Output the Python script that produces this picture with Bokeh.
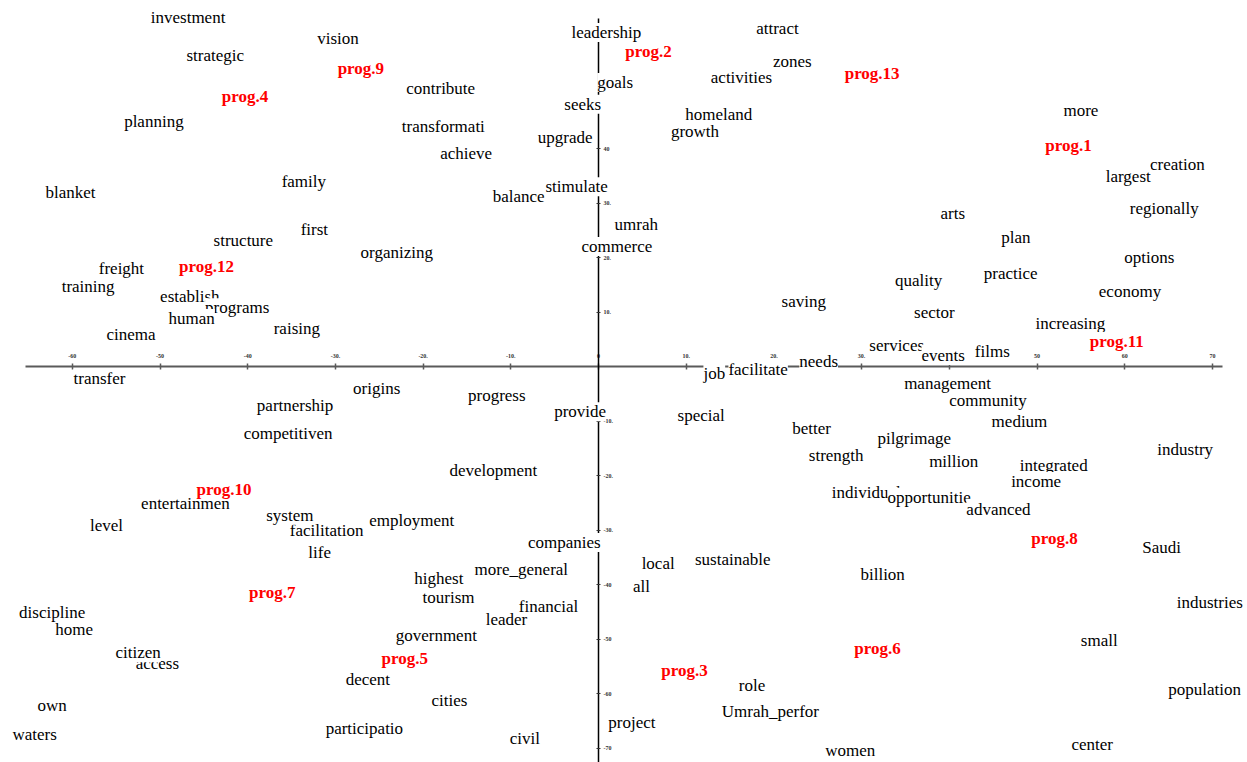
from bokeh.plotting import figure
from bokeh.models import ColumnDataSource, Range1d, LinearAxis, FixedTicker
from bokeh.core.properties import value
from bokeh.embed import file_html
from bokeh.resources import INLINE

# Word coordinates on the two dimensions
words = ["investment", "strategic", "vision", "contribute", "planning", "transformati",
         "achieve", "family", "blanket", "balance", "stimulate", "leadership", "goals",
         "seeks", "upgrade", "attract", "zones", "activities", "growth", "homeland",
         "more", "creation", "largest", "regionally", "arts", "plan", "options",
         "quality", "practice", "economy", "saving", "sector", "increasing", "services",
         "events", "films", "umrah", "commerce", "needs", "job", "facilitate",
         "structure", "first", "organizing", "freight", "training", "establish",
         "programs", "human", "cinema", "raising", "transfer", "origins", "progress",
         "provide", "partnership", "competitiven", "development", "entertainmen", "level",
         "facilitation", "system", "employment", "life", "companies", "highest",
         "more_general", "tourism", "leader", "financial", "home", "discipline", "access",
         "citizen", "government", "decent", "cities", "own", "waters", "participatio",
         "civil", "special", "management", "community", "medium", "better", "pilgrimage",
         "strength", "million", "integrated", "industry", "income", "individuals",
         "opportunitie", "advanced", "Saudi", "local", "all", "sustainable", "billion",
         "industries", "small", "role", "population", "Umrah_perfor", "project", "women",
         "center"]
word_x = [-46.8, -43.7, -29.7, -18.0, -50.7, -17.7,
          -15.1, -33.6, -60.2, -9.1, -2.5, 0.9, 1.9,
          -1.8, -3.8, 20.4, 22.1, 16.3, 11.0, 13.7,
          55.0, 66.0, 60.4, 64.5, 40.4, 47.6, 62.8,
          36.5, 47.0, 60.6, 23.4, 38.3, 53.8, 34.0,
          39.3, 44.9, 4.3, 2.1, 25.1, 13.2, 18.2,
          -40.5, -32.4, -23.0, -54.4, -58.2, -46.6,
          -41.2, -46.4, -53.3, -34.4, -56.9, -25.3, -11.6,
          -2.1, -34.6, -35.4, -12.0, -47.1, -56.1,
          -31.0, -35.2, -21.3, -31.8, -3.9, -18.2,
          -8.8, -17.1, -10.5, -5.7, -59.8, -62.3, -50.3,
          -52.5, -18.5, -26.3, -17.0, -62.3, -64.3, -26.7,
          -8.4, 11.7, 39.8, 44.4, 48.0, 24.3, 36.0,
          27.1, 40.5, 51.9, 66.9, 49.9, 30.9,
          37.7, 45.6, 64.2, 6.8, 4.9, 15.3, 32.4,
          69.7, 57.1, 17.5, 69.1, 19.6, 3.8, 28.7,
          56.3]
word_y = [64.0, 57.1, 60.2, 51.0, 45.0, 44.0,
          39.1, 33.9, 31.9, 31.2, 33.0, 61.3, 52.1,
          48.1, 42.0, 62.0, 56.0, 53.0, 43.1, 46.2,
          47.0, 37.1, 34.9, 29.0, 28.1, 23.7, 20.0,
          15.8, 17.1, 13.8, 11.9, 9.9, 7.9, 3.9,
          2.0, 2.8, 26.1, 22.0, 0.9, -1.3, -0.6,
          23.1, 25.1, 20.9, 18.0, 14.7, 12.8,
          10.8, 8.8, 5.9, 7.0, -2.2, -4.0, -5.3,
          -8.3, -7.2, -12.3, -19.1, -25.1, -29.2,
          -30.1, -27.3, -28.3, -34.1, -32.3, -38.9,
          -37.3, -42.4, -46.4, -44.0, -48.3, -45.1, -54.5,
          -52.5, -49.4, -57.4, -61.3, -62.2, -67.5, -66.4,
          -68.3, -9.0, -3.1, -6.2, -10.1, -11.4, -13.2,
          -16.3, -17.4, -18.2, -15.2, -21.1, -23.1,
          -24.0, -26.2, -33.2, -36.2, -40.4, -35.4, -38.2,
          -43.3, -50.3, -58.5, -59.3, -63.3, -65.3, -70.5,
          -69.4]

# Programme coordinates
progs = ["prog.1", "prog.2", "prog.3", "prog.4", "prog.5", "prog.6", "prog.7",
         "prog.8", "prog.9", "prog.10", "prog.11", "prog.12", "prog.13"]
prog_x = [53.6, 5.7, 9.8, -40.3, -22.1, 31.8, -37.2, 52.0, -27.1, -42.7, 59.1, -44.7, 31.2]
prog_y = [40.6, 57.8, -55.8, 49.5, -53.6, -51.7, -41.5, -31.6, 54.7, -22.6, 4.6, 18.4, 53.8]

x_ticks = [-60, -50, -40, -30, -20, -10, 0, 10, 20, 30, 40, 50, 60, 70]
x_labels = ["-60", "-50", "-40", "-30.", "-20.", "-10.", "0", "10.", "20.", "30.", "40", "50", "60", "70"]
y_ticks = [-70, -60, -50, -40, -30, -20, -10, 10, 20, 30, 40]
y_labels = ["-70", "-60", "-50", "-40", "-30.", "-20.", "-10.", "10.", "20.", "30.", "40"]

p = figure(width=1247, height=762, output_backend="svg", toolbar_location=None,
           x_range=Range1d(-68.19, 74.0), y_range=Range1d(-72.66, 67.16),
           x_axis_location=None, y_axis_location=None, min_border=0)
p.outline_line_color = None
p.background_fill_color = "white"
p.xgrid.visible = False
p.ygrid.visible = False

xaxis = LinearAxis(fixed_location=0, bounds=(-65.3, 71.2))
xaxis.ticker = FixedTicker(ticks=x_ticks, minor_ticks=[])
xaxis.major_label_overrides = dict(zip(x_ticks, x_labels))
xaxis.axis_line_color = "#5a5a5a"
xaxis.axis_line_width = 2
xaxis.major_tick_line_color = "#5a5a5a"
xaxis.major_tick_line_width = 1.5
xaxis.major_tick_in = 3
xaxis.major_tick_out = 3
xaxis.minor_tick_line_color = None
xaxis.major_label_text_font = "Liberation Serif"
xaxis.major_label_text_font_size = "6px"
xaxis.major_label_text_font_style = "bold"
xaxis.major_label_text_color = "#333333"
xaxis.major_label_standoff = 6
xaxis.level = "underlay"
p.add_layout(xaxis, "above")

yaxis = LinearAxis(fixed_location=0, bounds=(-80, 63.9))
yaxis.ticker = FixedTicker(ticks=y_ticks, minor_ticks=[])
yaxis.major_label_overrides = dict(zip(y_ticks, y_labels))
yaxis.axis_line_color = "black"
yaxis.axis_line_width = 1.5
yaxis.major_tick_line_color = "#333333"
yaxis.major_tick_in = 2
yaxis.major_tick_out = 2
yaxis.minor_tick_line_color = None
yaxis.major_label_text_font = "Liberation Serif"
yaxis.major_label_text_font_size = "6px"
yaxis.major_label_text_font_style = "bold"
yaxis.major_label_text_color = "#333333"
yaxis.major_label_standoff = 3
yaxis.level = "underlay"
p.add_layout(yaxis, "right")

wsrc = ColumnDataSource(dict(x=word_x, y=word_y, text=words))
p.text(x="x", y="y", text="text", source=wsrc, text_align="center",
       text_baseline="middle", text_font=value("Liberation Serif"),
       text_font_size="17px", text_color="black",
       background_fill_color="white")

psrc = ColumnDataSource(dict(x=prog_x, y=prog_y, text=progs))
p.text(x="x", y="y", text="text", source=psrc, text_align="center",
       text_baseline="middle", text_font=value("Liberation Serif"),
       text_font_size="17px", text_font_style="bold", text_color="#ff0000",
       background_fill_color="white")

open("out.html", "w").write(file_html(p, INLINE))
